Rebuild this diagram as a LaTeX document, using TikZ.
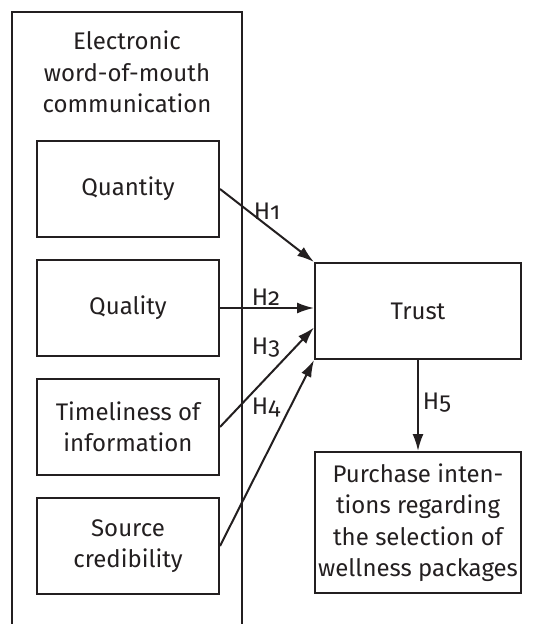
\documentclass[tikz,border=0pt]{standalone}
\usepackage{fontspec}
\setmainfont{Fira Sans}[Numbers=OldStyle]
\usepackage{tikz}
\usetikzlibrary{arrows.meta, positioning}
\definecolor{inkblack}{RGB}{35, 31, 32}

\tikzset{
  factor/.style={draw=inkblack, line width=1pt, minimum width=91pt, minimum height=48pt, align=center, inner sep=0pt},
  hyp/.style={-{Latex[length=8.5pt, width=5.5pt]}, line width=1pt, draw=inkblack},
  hlabel/.style={inner sep=0pt}
}

\begin{document}
\begin{tikzpicture}[x=0.5pt, y=-0.5pt, font=\fontsize{12}{15.75}\selectfont, text=inkblack]
\clip (0,0) rectangle (538,624);
% eWOM frame, open at the bottom
\draw[line width=1pt, inkblack] (12,12) rectangle (242,660);
\node[align=center, inner sep=0pt] (ewom) at (127,72) {Electronic\\word-of-mouth\\communication};

% dimensions
\node[factor] (quan) at (128,189) {Quantity};
\node[factor] (qual) at (128,308) {Quality};
\node[factor] (time) at (128,427) {Timeliness of\\information};
\node[factor] (src) at (128,546) {Source\\credibility};

% outcomes
\node[factor, minimum width=103pt] (trust) at (418,311) {Trust};
\node[factor, minimum width=103pt, minimum height=70.5pt] (buy) at (418,522.5) {Purchase inten-\\tions regarding\\the selection of\\wellness packages};

% hypotheses
\draw[hyp] (quan.east) -- (trust.north west);
\draw[hyp] (qual.east) -- (qual.east -| trust.west);
\draw[hyp] (time.east) -- (trust.189);
\draw[hyp] (src.east) -- (trust.south west);
\draw[hyp] (trust.south) -- (buy.north);

\node[hlabel] (h1) at (267,211) {H1};
\node[hlabel] (h2) at (266,297) {H2};
\node[hlabel] (h3) at (266,348) {H3};
\node[hlabel] (h4) at (266,408) {H4};
\node[hlabel] (h5) at (437,403) {H5};
\end{tikzpicture}
\end{document}
